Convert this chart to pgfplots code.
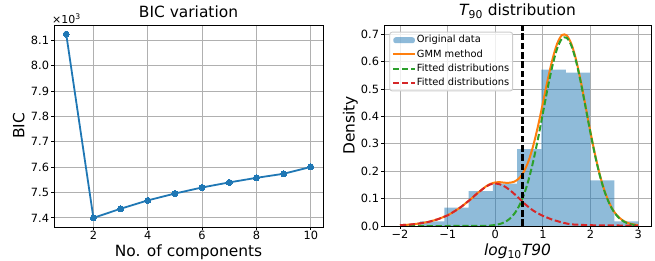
\documentclass[border=0pt]{standalone}
\usepackage{fontspec}
\setmainfont{DejaVu Sans}
\usepackage{pgfplots}
\pgfplotsset{compat=1.18}
\definecolor{c0}{HTML}{1F77B4}
\definecolor{c1}{HTML}{FF7F0E}
\definecolor{c2}{HTML}{2CA02C}
\definecolor{c3}{HTML}{D62728}
\definecolor{gridc}{HTML}{B0B0B0}
\pgfplotsset{
 mystyle/.style={
   scale only axis,
   axis line style={line width=0.9bp},
   grid=major,
   major grid style={gridc, line width=0.9bp},
   tick align=outside,
   xtick pos=bottom, ytick pos=left,
   major tick length=2.8bp,
   every tick/.style={black, line width=0.9bp},
   tick label style={font=\fontsize{11.4}{13}\selectfont},
   /pgf/number format/assume math mode=true,
   label style={font=\fontsize{15.5}{18}\selectfont},
   title style={font=\fontsize{15.5}{18}\selectfont, at={(0.5,1)}, anchor=base},
   xlabel style={at={(0.5,0)}, anchor=base, yshift=-29bp},
   ylabel style={at={([xshift=-29.5bp]rel axis cs:0,0.5)}, anchor=base},
   xticklabel style={anchor=north, inner sep=0pt, yshift=-1.5bp},
   yticklabel style={anchor=east, inner sep=0pt, xshift=-2bp},
 }
}
\begin{document}
\begin{tikzpicture}
\begin{axis}[mystyle,
  width=269bp, height=202bp,
  xmin=0.55, xmax=10.45, ymin=7364, ymax=8161,
  xtick={2,4,6,8,10},
  ytick={7400,7500,7600,7700,7800,7900,8000,8100},
  scaled y ticks=base 10:-3,
  ytick scale label code/.code={×10\textsuperscript{3}},
  every y tick scale label/.style={at={(0,1)}, anchor=base west, yshift=1.7bp, inner sep=0pt, font=\fontsize{11}{13}\selectfont},
  yticklabel style={/pgf/number format/fixed, /pgf/number format/fixed zerofill, /pgf/number format/precision=1},
  title={BIC variation},
  title style={yshift=1.7bp},
  xlabel={No. of components},
  ylabel={BIC},
]
\addplot[c0, line width=1.8bp, mark=*, mark size=3bp, mark options={solid, fill=c0, draw=c0, line width=0pt}]
coordinates {(1,8125) (2,7400) (3,7436) (4,7469) (5,7496) (6,7520) (7,7540) (8,7558) (9,7574) (10,7601)};
\end{axis}
\begin{axis}[mystyle,
  at={(330bp,1bp)},
  width=267bp, height=201bp,
  xmin=-2.336, xmax=3.27, ymin=0, ymax=0.734,
  xtick={-2,-1,0,1,2,3},
  xticklabels={−2,−1,0,1,2,3},
  ytick={0,0.1,0.2,0.3,0.4,0.5,0.6,0.7},
  yticklabel style={/pgf/number format/fixed, /pgf/number format/fixed zerofill, /pgf/number format/precision=1},
  title={{\itshape T}\textsubscript{90} distribution},
  title style={yshift=3.3bp},
  xlabel={{\itshape log}\textsubscript{10}{\itshape T90}},
  ylabel={Density},
  legend cell align=left,
  legend style={at={(0,1)}, anchor=north west, xshift=5.3bp, yshift=-6.7bp,
    draw=black!20, line width=0.9bp, rounded corners=2.5bp, fill=white, fill opacity=0.8, text opacity=1,
    font=\fontsize{9.9}{11}\selectfont, inner xsep=2.5bp, inner ysep=2.5bp, row sep=3bp,
    nodes={inner sep=1bp, text height=7.2bp, text depth=2bp}},
]
\addplot[ybar interval, fill=c0, fill opacity=0.5, draw=none,
  legend image code/.code={\fill[c0, fill opacity=0.5] (0bp,-3bp) rectangle (21.7bp,3bp);}]
coordinates {(-2.09,0) (-1.58,0.017) (-1.07,0.067) (-0.56,0.127) (-0.05,0.155) (0.46,0.281) (0.97,0.571) (1.48,0.560) (1.99,0.167) (2.50,0.017) (3.01,0.017)};
\addlegendentry{Original data}
\addplot[c1, line width=2bp, smooth,
  legend image code/.code={\draw[c1, line width=2bp] (0bp,0bp) -- (21.7bp,0bp);}]
coordinates {(-2.0,0.003) (-1.9,0.004) (-1.8,0.005) (-1.7,0.007) (-1.6,0.009) (-1.5,0.012) (-1.4,0.015) (-1.3,0.020) (-1.2,0.025) (-1.1,0.032) (-1.0,0.039) (-0.9,0.049) (-0.8,0.060) (-0.7,0.072) (-0.6,0.086) (-0.5,0.100) (-0.4,0.116) (-0.3,0.130) (-0.2,0.144) (-0.1,0.154) (0.0,0.159) (0.1,0.160) (0.2,0.158) (0.3,0.158) (0.4,0.162) (0.5,0.174) (0.6,0.198) (0.7,0.238) (0.8,0.295) (0.9,0.367) (1.0,0.449) (1.1,0.533) (1.2,0.608) (1.3,0.666) (1.4,0.697) (1.5,0.696) (1.6,0.664) (1.7,0.605) (1.8,0.525) (1.9,0.434) (2.0,0.342) (2.1,0.257) (2.2,0.184) (2.3,0.126) (2.4,0.082) (2.5,0.051) (2.6,0.031) (2.7,0.018) (2.8,0.010) (2.9,0.006) (3.0,0.003)};
\addlegendentry{GMM method}
\addplot[c2, line width=2bp, smooth, dash pattern=on 6.2bp off 2.7bp,
  legend image code/.code={\draw[c2, line width=2bp, dash pattern=on 6.2bp off 2.7bp] (0bp,0bp) -- (21.7bp,0bp);}]
coordinates {(-2.0,0) (-1.0,0) (-0.5,0.0001) (-0.3,0.0004) (-0.2,0.0008) (-0.1,0.0018) (0.0,0.0038) (0.1,0.0076) (0.2,0.0144) (0.3,0.0259) (0.4,0.0446) (0.5,0.0729) (0.6,0.1136) (0.7,0.1687) (0.8,0.2385) (0.9,0.3211) (1.0,0.4118) (1.1,0.5030) (1.2,0.5851) (1.3,0.6482) (1.4,0.6840) (1.5,0.6873) (1.6,0.6578) (1.7,0.5995) (1.8,0.5205) (1.9,0.4303) (2.0,0.3389) (2.1,0.2541) (2.2,0.1815) (2.3,0.1234) (2.4,0.0800) (2.5,0.0493) (2.6,0.0290) (2.7,0.0162) (2.8,0.0086) (2.9,0.0044) (3.0,0.0021)};
\addlegendentry{Fitted distributions}
\addplot[c3, line width=2bp, smooth, dash pattern=on 6.2bp off 2.7bp,
  legend image code/.code={\draw[c3, line width=2bp, dash pattern=on 6.2bp off 2.7bp] (0bp,0bp) -- (21.7bp,0bp);}]
coordinates {(-2.0,0.003) (-1.9,0.004) (-1.8,0.005) (-1.7,0.007) (-1.6,0.009) (-1.5,0.012) (-1.4,0.015) (-1.3,0.020) (-1.2,0.025) (-1.1,0.032) (-1.0,0.039) (-0.9,0.049) (-0.8,0.060) (-0.7,0.072) (-0.6,0.086) (-0.5,0.100) (-0.4,0.116) (-0.3,0.130) (-0.2,0.143) (-0.1,0.152) (0.0,0.155) (0.1,0.152) (0.2,0.144) (0.3,0.132) (0.4,0.117) (0.5,0.101) (0.6,0.084) (0.7,0.069) (0.8,0.056) (0.9,0.046) (1.0,0.037) (1.1,0.030) (1.2,0.023) (1.3,0.018) (1.4,0.013) (1.5,0.009) (1.6,0.006) (1.7,0.005) (1.8,0.004) (2.0,0.003) (2.2,0.002) (2.5,0.002) (3.0,0.001)};
\addlegendentry{Fitted distributions}
\addplot[black, line width=2.2bp, dash pattern=on 6.5bp off 2.8bp, forget plot]
coordinates {(0.57,0) (0.57,0.734)};
\end{axis}
\pgfresetboundingbox
\useasboundingbox (-54bp,-34bp) rectangle (601bp,227bp);
\end{tikzpicture}
\end{document}
